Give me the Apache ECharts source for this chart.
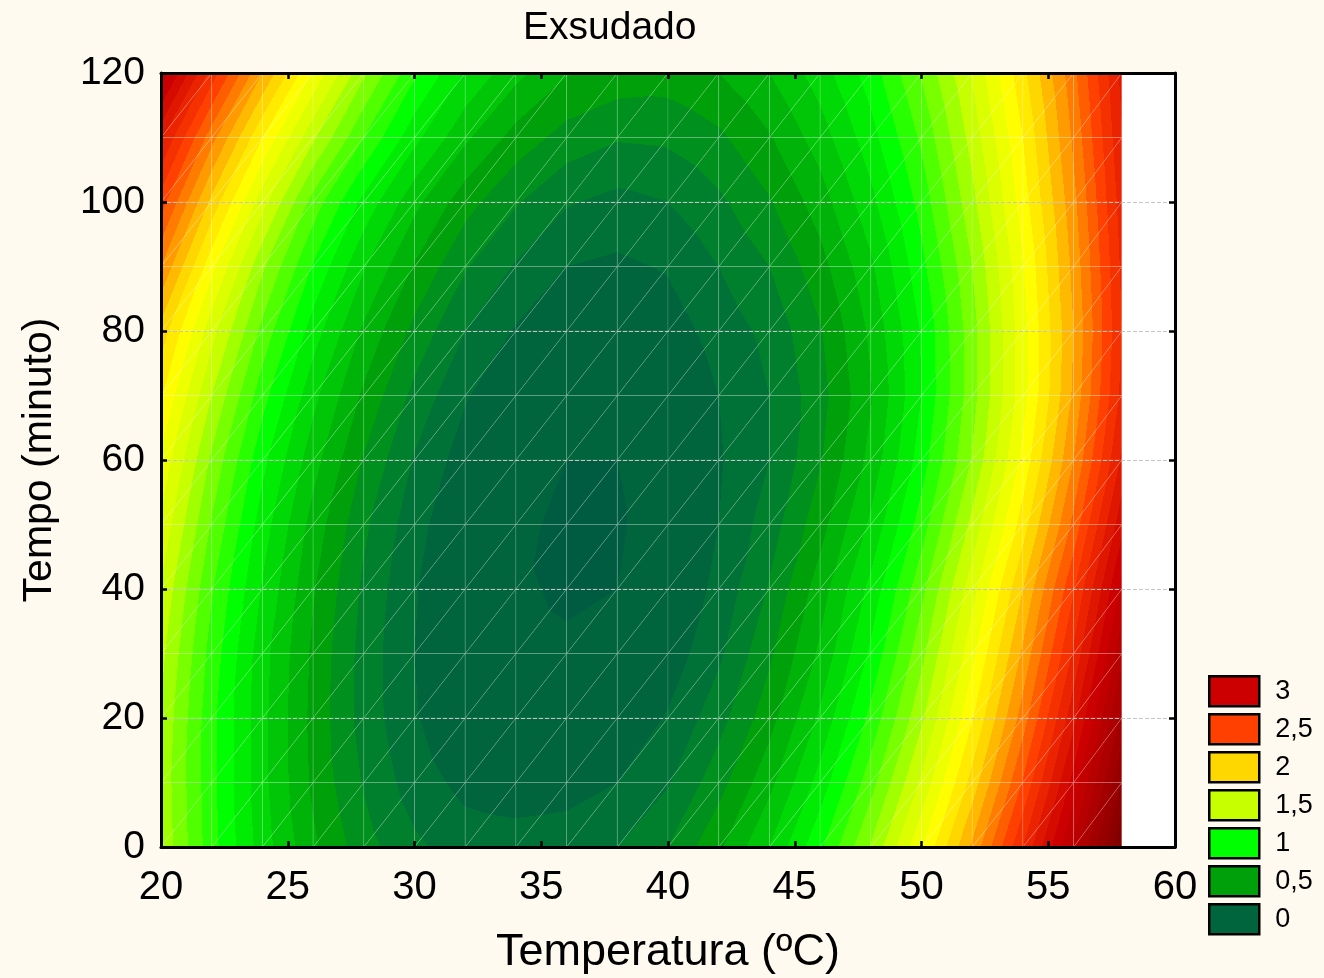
<!DOCTYPE html>
<html>
<head>
<meta charset="utf-8">
<script src="https://cdn.jsdelivr.net/npm/echarts/dist/echarts.min.js"></script>
<style>
html,body{margin:0;padding:0;background:#fffaf0;}
#chart{width:1324px;height:978px;}
</style>
</head>
<body>
<div id="chart"></div>
<script>
// ---------- DATA ----------
const temperatura = [20,22,24,26,28,30,32,34,36,38,40,42,44,46,48,50,52,54,56,57.9];
const tempo = [0,10,20,30,40,50,60,70,80,90,100,110,120];
// one row per tempo value, one column per temperatura value
const exsudado = [
  [1.43,1.09,0.80,0.57,0.39,0.27,0.20,0.19,0.20,0.25,0.35,0.53,0.75,1.03,1.36,1.74,2.17,2.65,3.18,3.76],
  [1.42,1.08,0.78,0.53,0.34,0.20,0.12,0.10,0.11,0.15,0.24,0.41,0.62,0.89,1.21,1.57,1.99,2.46,2.99,3.56],
  [1.44,1.08,0.78,0.52,0.31,0.16,0.06,0.01,0.00,0.06,0.16,0.31,0.51,0.77,1.08,1.43,1.84,2.30,2.82,3.38],
  [1.48,1.11,0.79,0.53,0.31,0.15,0.03,-0.03,-0.04,0.00,0.09,0.23,0.43,0.67,0.97,1.32,1.72,2.17,2.67,3.22],
  [1.54,1.16,0.84,0.56,0.33,0.16,0.03,-0.04,-0.06,-0.05,0.05,0.18,0.36,0.60,0.88,1.22,1.61,2.05,2.54,3.08],
  [1.63,1.24,0.90,0.61,0.37,0.19,0.05,-0.03,-0.07,-0.07,0.03,0.15,0.30,0.51,0.77,1.10,1.48,1.90,2.38,2.92],
  [1.73,1.33,0.98,0.69,0.44,0.24,0.10,0.00,-0.05,-0.05,0.03,0.14,0.25,0.44,0.68,1.00,1.36,1.78,2.25,2.77],
  [1.86,1.45,1.09,0.78,0.53,0.32,0.16,0.06,0.01,0.00,0.05,0.15,0.25,0.41,0.64,0.95,1.31,1.71,2.17,2.68],
  [2.01,1.59,1.22,0.90,0.63,0.42,0.25,0.14,0.07,0.06,0.10,0.19,0.28,0.44,0.67,0.96,1.31,1.71,2.15,2.65],
  [2.25,1.78,1.37,1.04,0.76,0.54,0.36,0.24,0.15,0.13,0.16,0.25,0.35,0.51,0.73,1.02,1.35,1.74,2.18,2.67],
  [2.50,2.02,1.59,1.21,0.92,0.68,0.49,0.36,0.26,0.22,0.25,0.33,0.44,0.60,0.82,1.09,1.42,1.80,2.22,2.70],
  [2.77,2.29,1.85,1.47,1.15,0.88,0.67,0.51,0.41,0.36,0.37,0.43,0.54,0.70,0.91,1.17,1.49,1.85,2.27,2.74],
  [3.13,2.61,2.15,1.74,1.37,1.07,0.84,0.68,0.56,0.51,0.50,0.55,0.65,0.80,1.00,1.26,1.56,1.92,2.32,2.78]
];
const xTicks = {min: 20, max: 60, interval: 5};
const yTicks = {min: 0, max: 120, interval: 20};
const legendLabels = ['3','2,5','2','1,5','1','0,5','0'];

// ---------- STYLE ----------
const legendColors = ['#cc0000','#ff4000','#ffd700','#c8ff00','#00ff00','#00a00a','#00643c'];
const specLevels = [-0.2, -0.08, -0.02, 0.12, 0.5, 1, 1.5, 2, 2.5, 3, 3.8];
const specColors = ['#005c40','#005c40','#00643c','#00643c','#00a00a','#00ff00','#c8ff00','#ffd700','#ff4000','#cc0000','#780000'];
const STEP = 0.1, OFFSET = 0.05;
const FONT = '"Liberation Sans", Arial, sans-serif';

function hexToRgb(h){h=h.replace('#','');return [parseInt(h.substr(0,2),16),parseInt(h.substr(2,2),16),parseInt(h.substr(4,2),16)];}
function rgbToHsv(r,g,b){r/=255;g/=255;b/=255;const mx=Math.max(r,g,b),mn=Math.min(r,g,b),d=mx-mn;let h=0;
  if(d>0){if(mx===r)h=60*(((g-b)/d)%6);else if(mx===g)h=60*((b-r)/d+2);else h=60*((r-g)/d+4);}
  if(h<0)h+=360;return [h,mx===0?0:d/mx,mx];}
function hsvToRgb(h,s,v){const c=v*s,x=c*(1-Math.abs((h/60)%2-1)),m=v-c;let r=0,g=0,b=0;
  if(h<60){r=c;g=x;}else if(h<120){r=x;g=c;}else if(h<180){g=c;b=x;}else if(h<240){g=x;b=c;}else if(h<300){r=x;b=c;}else{r=c;b=x;}
  return [Math.round((r+m)*255),Math.round((g+m)*255),Math.round((b+m)*255)];}
const specHsv = specColors.map(c=>{const r=hexToRgb(c);return rgbToHsv(r[0],r[1],r[2]);});
function spectrum(z){
  if(z<=specLevels[0]) return specColors[0];
  if(z>=specLevels[specLevels.length-1]) return specColors[specColors.length-1];
  let i=0; while(z>specLevels[i+1]) i++;
  const f=(z-specLevels[i])/(specLevels[i+1]-specLevels[i]);
  const a=specHsv[i], b=specHsv[i+1];
  const h=a[0]+(b[0]-a[0])*f, s=a[1]+(b[1]-a[1])*f, v=a[2]+(b[2]-a[2])*f;
  const rgb=hsvToRgb(((h%360)+360)%360,s,v);
  return 'rgb('+rgb.join(',')+')';
}
// band k covers [OFFSET + k*STEP, OFFSET + (k+1)*STEP)
const colorCache={};
function colorK(k){ if(!(k in colorCache)) colorCache[k]=spectrum(OFFSET+(k+0.5)*STEP); return colorCache[k]; }
function bandOf(z){ return Math.floor(Math.round((z-OFFSET)*1e6)/(STEP*1e6)); }
function clamp01(v){ return v<0?0:(v>1?1:v); }

function triangle(p, z){
  const x1=p[0][0],y1=p[0][1],x2=p[1][0],y2=p[1][1],x3=p[2][0],y3=p[2][1];
  const dx2=x2-x1,dy2=y2-y1,dz2=z[1]-z[0],dx3=x3-x1,dy3=y3-y1,dz3=z[2]-z[0];
  const det=dx2*dy3-dx3*dy2;
  const zlo=Math.min(z[0],z[1],z[2]), zhi=Math.max(z[0],z[1],z[2]);
  const klo=bandOf(zlo), khi=bandOf(zhi);
  let fill;
  if(klo===khi || Math.abs(det)<1e-9 || zhi-zlo<1e-9){ fill=colorK(klo); }
  else{
    const a=(dz2*dy3-dz3*dy2)/det, b=(dx2*dz3-dx3*dz2)/det, g2=a*a+b*b;
    const s0=(zlo-z[0])/g2, s1=(zhi-z[0])/g2;
    const stops=[{offset:0,color:colorK(klo)}];
    for(let k=klo;k<khi;k++){
      const off=clamp01((OFFSET+(k+1)*STEP-zlo)/(zhi-zlo));
      stops.push({offset:off,color:colorK(k)},{offset:off,color:colorK(k+1)});
    }
    stops.push({offset:1,color:colorK(khi)});
    fill=new echarts.graphic.LinearGradient(x1+s0*a,y1+s0*b,x1+s1*a,y1+s1*b,stops,true);
  }
  return {type:'polygon',shape:{points:p},style:{fill:fill,stroke:'rgba(255,255,255,0.18)',lineWidth:0.7}};
}

// cells built from the arrays
const cells=[];
for(let j=0;j<tempo.length-1;j++){
  for(let i=0;i<temperatura.length-1;i++){
    cells.push([temperatura[i],tempo[j],temperatura[i+1],tempo[j+1],
      exsudado[j][i],exsudado[j][i+1],exsudado[j+1][i],exsudado[j+1][i+1]]);
  }
}

const chart=echarts.init(document.getElementById('chart'),null,{renderer:'canvas'});
const axisCommon={
  type:'value',
  axisLine:{show:true,onZero:false,lineStyle:{color:'#000',width:3}},
  axisTick:{show:true,inside:true,length:6,lineStyle:{color:'#000',width:2.5}},
  z:10
};
const legendSeries=legendLabels.map((n,i)=>({name:n,type:'scatter',data:[],itemStyle:{color:legendColors[i],opacity:1}}));

chart.setOption({
  backgroundColor:'#fffaf0',
  animation:false,
  title:{text:'Exsudado',left:518,top:4,textStyle:{fontFamily:FONT,fontSize:39,fontWeight:'normal',color:'#000'}},
  grid:{left:161,top:73,width:1014,height:774,show:true,backgroundColor:'#ffffff',borderWidth:0,outerBoundsMode:'none',containLabel:false},
  legend:{
    data:legendLabels,orient:'vertical',left:1208,top:675,icon:'rect',padding:0,
    itemWidth:50,itemHeight:30,itemGap:5.5,selectedMode:false,
    itemStyle:{borderColor:'#000',borderWidth:2.5,opacity:1},
    textStyle:{fontFamily:FONT,fontSize:27,lineHeight:30,color:'#000',padding:[0,0,0,11]}
  },
  xAxis:[
    Object.assign({},axisCommon,{position:'bottom',min:xTicks.min,max:xTicks.max,interval:xTicks.interval,
      name:'Temperatura (ºC)',nameLocation:'middle',nameGap:83,
      nameTextStyle:{fontFamily:FONT,fontSize:45,color:'#000'},
      axisLabel:{fontFamily:FONT,fontSize:40,color:'#000',margin:21},
      splitLine:{show:false}}),
    Object.assign({},axisCommon,{position:'top',min:xTicks.min,max:xTicks.max,interval:xTicks.interval,
      axisLabel:{show:false},splitLine:{show:false}})
  ],
  yAxis:[
    Object.assign({},axisCommon,{position:'left',min:yTicks.min,max:yTicks.max,interval:yTicks.interval,
      name:'Tempo (minuto)',nameLocation:'middle',nameGap:101,
      nameTextStyle:{fontFamily:FONT,fontSize:41,color:'#000'},
      axisLabel:{fontFamily:FONT,fontSize:39,color:'#000',margin:16},
      splitLine:{show:true,lineStyle:{color:'#c4c4c4',type:'dashed',width:1}}}),
    Object.assign({},axisCommon,{position:'right',min:yTicks.min,max:yTicks.max,interval:yTicks.interval,
      axisLabel:{show:false},splitLine:{show:false}})
  ],
  series:[{
    type:'custom',
    xAxisIndex:0,yAxisIndex:0,
    silent:true,
    data:cells,
    encode:{x:[0,2],y:[1,3]},
    renderItem:function(params,api){
      const T0=api.value(0),t0=api.value(1),T1=api.value(2),t1=api.value(3);
      const z00=api.value(4),z10=api.value(5),z01=api.value(6),z11=api.value(7);
      const p00=api.coord([T0,t0]),p10=api.coord([T1,t0]),p01=api.coord([T0,t1]),p11=api.coord([T1,t1]);
      return {type:'group',children:[
        triangle([p00,p10,p11],[z00,z10,z11]),
        triangle([p00,p11,p01],[z00,z11,z01])
      ]};
    }
  }].concat(legendSeries)
});
</script>
</body>
</html>
